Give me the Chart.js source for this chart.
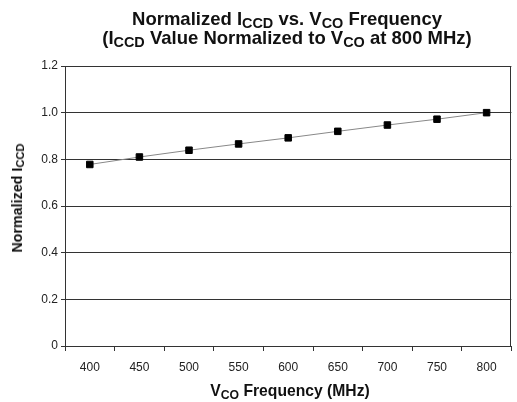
<!DOCTYPE html>
<html>
<head>
<meta charset="utf-8">
<script src="https://cdn.jsdelivr.net/npm/chart.js@4"></script>
<style>
    html, body { margin: 0; padding: 0; background: #fff; }
    #wrap { position: relative; width: 517px; height: 402px; font-family: "Liberation Sans", Arial, sans-serif; color: #111; }
    #wrap canvas { position: absolute; left: 0; top: 0; }
    .sub { font-size: .78em; position: relative; top: .22em; }
    .ttl { position: absolute; left: 0; width: 574px; text-align: center; font-weight: bold; font-size: 18.5px; white-space: nowrap; }
    #xt { position: absolute; left: 0; width: 580px; top: 382px; text-align: center; font-weight: bold; font-size: 15.7px; white-space: nowrap; }
    #yt { position: absolute; left: 17px; top: 198px; transform: translate(-50%, -50%) rotate(-90deg); font-weight: bold; font-size: 14.3px; white-space: nowrap; }
</style>
</head>
<body>
<div id="wrap">
    <canvas id="c" width="517" height="402"></canvas>
    <div class="ttl" style="top:8px">Normalized I<span class="sub">CCD</span> vs. V<span class="sub">CO</span> Frequency</div>
    <div class="ttl" style="top:27px">(I<span class="sub">CCD</span> Value Normalized to V<span class="sub">CO</span> at 800 MHz)</div>
    <div id="yt">Normalized I<span class="sub">CCD</span></div>
    <div id="xt">V<span class="sub">CO</span> Frequency (MHz)</div>
</div>
<script>
// VCO frequency (MHz) and normalized ICCD
const freqs = ['400', '450', '500', '550', '600', '650', '700', '750', '800'];
const iccdNorm = [0.778, 0.810, 0.839, 0.866, 0.892, 0.920, 0.947, 0.972, 1.0];
const yTicks = [0, 0.2, 0.4, 0.6, 0.8, 1.0, 1.2];

const lineCol = '#333';

// right edge of the plot frame, like the Excel plot area
const frame = {
    id: 'frame',
    afterDraw(chart) {
        const a = chart.chartArea, ctx = chart.ctx;
        ctx.save();
        ctx.strokeStyle = lineCol;
        ctx.lineWidth = 1;
        ctx.beginPath();
        ctx.moveTo(Math.round(a.right) - .5, a.top);
        ctx.lineTo(Math.round(a.right) - .5, a.bottom);
        ctx.stroke();
        ctx.restore();
    }
};

new Chart(document.getElementById('c'), {
    type: 'line',
    data: {
        labels: freqs,
        datasets: [{
            data: iccdNorm,
            borderColor: '#888',
            borderWidth: 1,
            tension: 0,
            pointStyle: 'rect',
            pointRadius: 4.6,
            pointBackgroundColor: '#000',
            pointBorderColor: '#000',
            pointBorderWidth: 1,
        }]
    },
    options: {
        responsive: false,
        animation: false,
        events: [],
        layout: { padding: { left: 0, top: 66, right: 1, bottom: 0 } },
        plugins: { legend: { display: false }, title: { display: false }, tooltip: { enabled: false } },
        scales: {
            x: {
                offset: true,
                grid: { offset: true, drawOnChartArea: false, drawTicks: true, tickLength: 5, color: lineCol },
                border: { color: lineCol, width: 1 },
                ticks: { color: '#222', font: { family: 'Liberation Sans', size: 12 }, padding: 9, maxRotation: 0 },
                afterFit(s) { s.height = 56; }
            },
            y: {
                min: 0, max: 1.2,
                afterBuildTicks(s) { s.ticks = yTicks.map(v => ({ value: v })); },
                grid: { color: lineCol, tickLength: 4, drawTicks: true },
                border: { color: lineCol, width: 1 },
                ticks: {
                    color: '#222', font: { family: 'Liberation Sans', size: 12 }, padding: 3,
                    callback: v => v === 0 ? '0' : v.toFixed(1)
                },
                afterFit(s) { s.width = 65; }
            }
        }
    },
    plugins: [frame]
});
</script>
</body>
</html>
